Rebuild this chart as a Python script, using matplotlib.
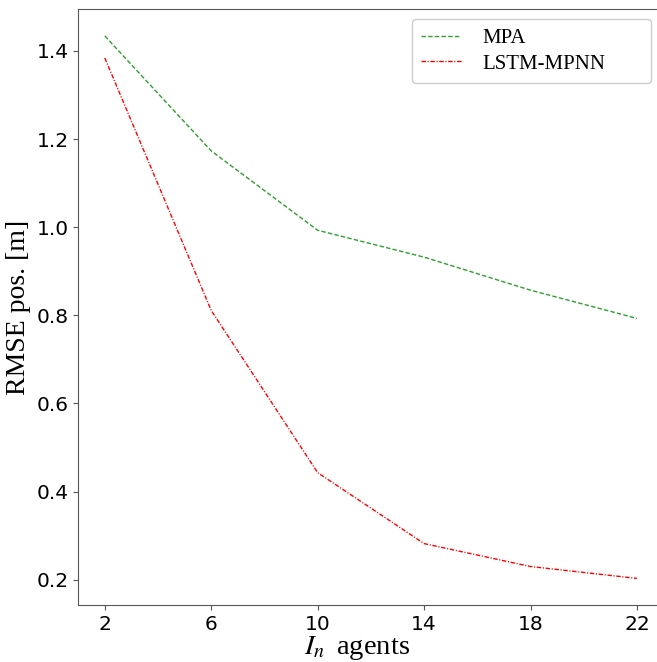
import matplotlib
matplotlib.use("Agg")
import matplotlib.pyplot as plt

agents = [2, 6, 10, 14, 18, 22]
mpa = [1.434, 1.173, 0.993, 0.932, 0.857, 0.793]
lstm_mpnn = [1.384, 0.811, 0.443, 0.282, 0.230, 0.203]
xticks = [2, 6, 10, 14, 18, 22]
yticks = [0.2, 0.4, 0.6, 0.8, 1.0, 1.2, 1.4]

plt.rcParams['mathtext.fontset'] = 'stix'
fig = plt.figure(figsize=(6.57, 6.62), dpi=100)
ax = fig.add_axes([0.119, 0.086, 0.891, 0.8997])

ax.plot(agents, mpa, linestyle=(0, (3.2, 1.6)), color='#2ca02c', linewidth=1.0, label='MPA')
ax.plot(agents, lstm_mpnn, linestyle=(0, (3.2, 1.2, 0.8, 1.2)), color='red', linewidth=1.0, label='LSTM-MPNN')

ax.set_xlim(1, 23)
ax.set_ylim(0.1425, 1.494)
ax.set_xticks(xticks)
ax.set_xticklabels([str(t) for t in xticks])
ax.set_yticks(yticks)
ax.set_yticklabels([f"{t:.1f}" for t in yticks])
ax.tick_params(labelsize=14.5, colors='black')
for s in ax.spines.values():
    s.set_color('#555555')
ax.tick_params(color='#555555')

ax.set_xlabel(r'$I_n\;\;$agents', fontsize=20.5, family='Liberation Serif')
ax.xaxis.set_label_coords(0.476, -0.049)
ax.set_ylabel('RMSE pos. [m]', fontsize=20, family='Liberation Serif')
ax.yaxis.set_label_coords(-0.080, 0.5)

top = 1 - 19 / 662
leg = ax.legend(loc='upper right', mode='expand',
                bbox_to_anchor=(412/657, 0.5, (651 - 412)/657, top - 0.5),
                bbox_transform=fig.transFigure, borderaxespad=0,
                prop={'family': 'Liberation Serif', 'size': 15},
                handlelength=1.9, handletextpad=1.05, borderpad=0.45,
                labelspacing=0.3, framealpha=1)
leg.get_frame().set_edgecolor('#cccccc')

fig.savefig('out.png', dpi=100)
